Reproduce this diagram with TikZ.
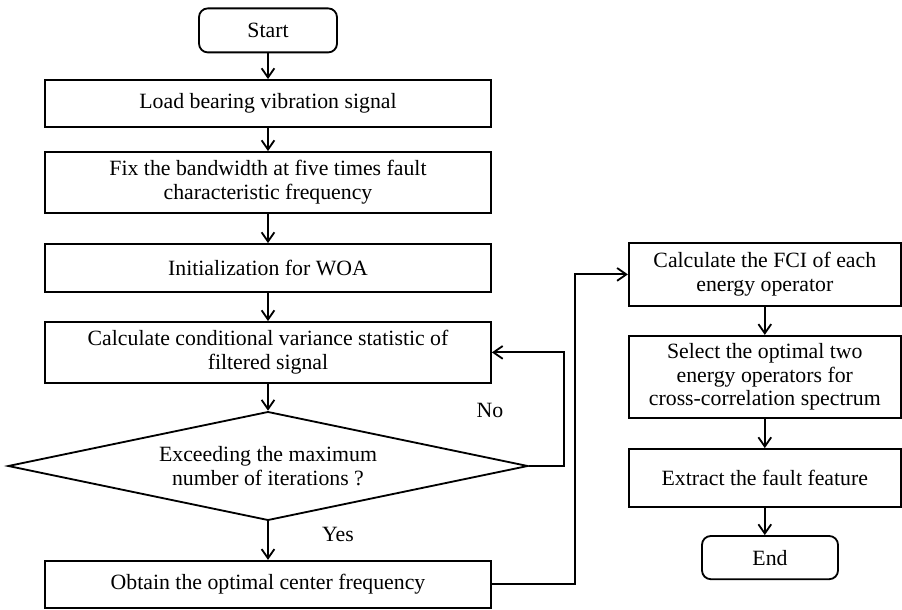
\documentclass[tikz,border=0pt]{standalone}
\usepackage{fontspec}
\setmainfont{Liberation Serif}
\usetikzlibrary{shapes.geometric,arrows.meta,positioning,calc}
\tikzset{
  >={Straight Barb[width=3.2mm,length=2.3mm]},
  every path/.style={line width=1.3pt},
  box/.style={draw,align=center,minimum width=11.15cm,font=\fontsize{15.5}{17}\selectfont,inner sep=2pt},
  rbox/.style={draw,align=center,minimum width=6.8cm,font=\fontsize{15.5}{17}\selectfont,inner sep=2pt},
  term/.style={draw,rounded corners=0.22cm,minimum width=3.45cm,minimum height=1.1cm,font=\fontsize{15.5}{17}\selectfont},
  dec/.style={draw,diamond,aspect=4.77,minimum width=13cm,minimum height=2.72cm,inner sep=0pt,align=center,font=\fontsize{15.5}{17}\selectfont},
  lbl/.style={font=\fontsize{15.5}{17}\selectfont}
}
\begin{document}
\begin{tikzpicture}
\useasboundingbox (0,0) rectangle (22.55,-15.25);
\node[term](start)at(6.7,-0.76){Start};
\node[box,minimum height=1.18cm](load)at(6.7,-2.59){Load bearing vibration signal};
\node[box,minimum height=1.52cm](fix)at(6.7,-4.56){Fix the bandwidth at five times fault\\characteristic frequency};
\node[box,minimum height=1.2cm](init)at(6.7,-6.7){Initialization for WOA};
\node[box,minimum height=1.52cm](calc)at(6.7,-8.81){Calculate conditional variance statistic of\\filtered signal};
\node[dec](iter)at(6.7,-11.65){Exceeding the maximum\\number of iterations ?};
\node[box,minimum height=1.18cm](obtain)at(6.7,-14.61){Obtain the optimal center frequency};
\node[rbox,minimum height=1.58cm](fci)at(19.12,-6.86){Calculate the FCI of each\\energy operator};
\node[rbox,minimum height=2.05cm](select)at(19.12,-9.42){Select the optimal two\\energy operators for\\cross-correlation spectrum};
\node[rbox,minimum height=1.45cm](extract)at(19.12,-11.95){Extract the fault feature};
\node[term,minimum width=3.4cm,minimum height=1.08cm](end)at(19.25,-13.94){End};
\node[lbl](no)at(12.25,-10.25){No};
\node[lbl](yes)at(8.45,-13.35){Yes};
\draw[->](start)--(load);\draw[->](load)--(fix);\draw[->](fix)--(init);
\draw[->](init)--(calc);\draw[->](calc)--(iter);\draw[->](iter)--(obtain);
\draw[->](iter.east)--++(0.875,0)|-(calc.east);
\draw[->](obtain.east)--++(2.075,0)|-(fci.west);
\draw[->](fci)--(select);\draw[->](select)--(extract);
\draw[->](extract.south)--(extract.south|-end.north);
\end{tikzpicture}
\end{document}
